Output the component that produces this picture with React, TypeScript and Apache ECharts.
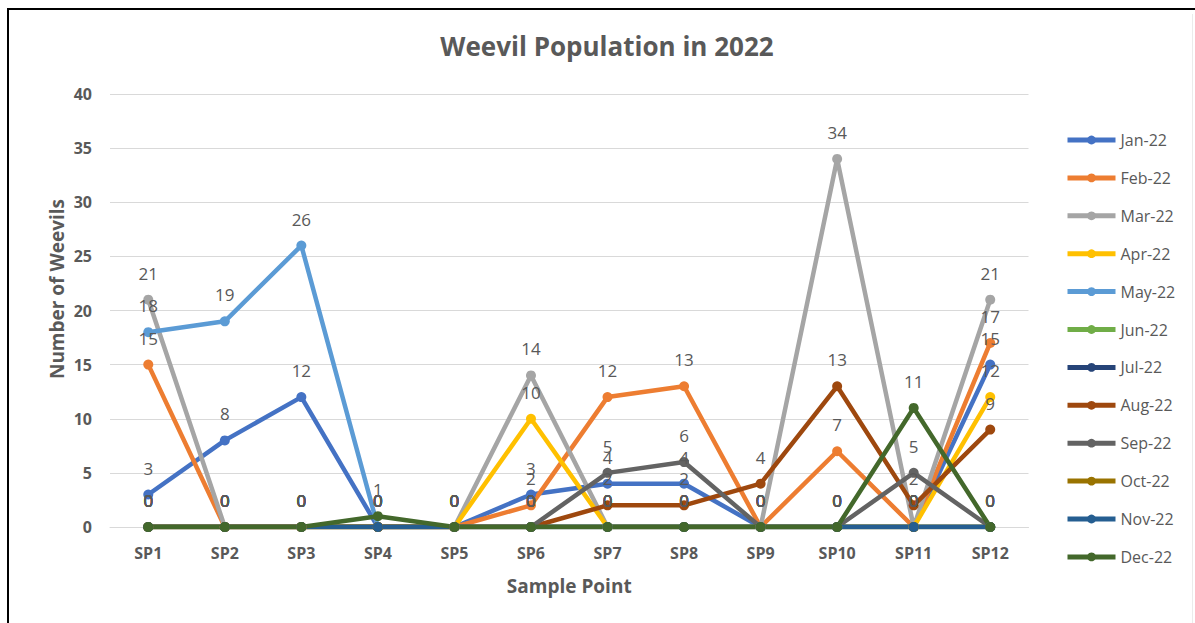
import React, { useEffect, useRef } from "react";
import * as echarts from "echarts";

// Sample points along the x axis
const samplePoints = ["SP1", "SP2", "SP3", "SP4", "SP5", "SP6", "SP7", "SP8", "SP9", "SP10", "SP11", "SP12"];

// Monthly weevil counts per sample point
const jan22 = [3, 8, 12, 0, 0, 3, 4, 4, 0, 0, 0, 15];
const feb22 = [15, 0, 0, 0, 0, 2, 12, 13, 0, 7, 0, 17];
const mar22 = [21, 0, 0, 0, 0, 14, 0, 0, 0, 34, 0, 21];
const apr22 = [0, 0, 0, 0, 0, 10, 0, 0, 0, 0, 0, 12];
const may22 = [18, 19, 26, 0, 0, 0, 0, 0, 0, 0, 0, 0];
const jun22 = [0, 0, 0, 0, 0, 0, 0, 0, 0, 0, 0, 0];
const jul22 = [0, 0, 0, 0, 0, 0, 0, 0, 0, 0, 0, 0];
const aug22 = [0, 0, 0, 0, 0, 0, 2, 2, 4, 13, 2, 9];
const sep22 = [0, 0, 0, 0, 0, 0, 5, 6, 0, 0, 5, 0];
const oct22 = [0, 0, 0, 0, 0, 0, 0, 0, 0, 0, 0, 0];
const nov22 = [0, 0, 0, 0, 0, 0, 0, 0, 0, 0, 0, 0];
const dec22 = [0, 0, 0, 1, 0, 0, 0, 0, 0, 0, 11, 0];

const monthNames = ["Jan-22", "Feb-22", "Mar-22", "Apr-22", "May-22", "Jun-22", "Jul-22", "Aug-22", "Sep-22", "Oct-22", "Nov-22", "Dec-22"];
const monthValues = [jan22, feb22, mar22, apr22, may22, jun22, jul22, aug22, sep22, oct22, nov22, dec22];
const monthColors = ["#4472C4", "#ED7D31", "#A5A5A5", "#FFC000", "#5B9BD5", "#70AD47", "#264478", "#9E480E", "#636363", "#997300", "#255E91", "#43682B"];

// Y axis range
const yMin = 0;
const yMax = 40;
const yStep = 5;

const FONT = "'Open Sans', 'Noto Sans', sans-serif";
const TEXT = "#595959";

export default function App() {
  const ref = useRef<HTMLDivElement>(null);

  useEffect(() => {
    if (!ref.current) return;
    const chart = echarts.init(ref.current, null, { renderer: "svg" });

    const series = monthNames.map((name, i) => ({
      name,
      type: "line",
      data: monthValues[i],
      symbol: "circle",
      symbolSize: 10,
      color: monthColors[i],
      lineStyle: { width: 4.5, color: monthColors[i] },
      itemStyle: { color: monthColors[i] },
      label: {
        show: true,
        position: "top",
        distance: 13,
        color: TEXT,
        fontSize: 17,
        fontFamily: FONT,
      },
    }));

    chart.setOption({
      animation: false,
      backgroundColor: "#ffffff",
      title: {
        text: "Weevil Population in 2022",
        left: 602,
        top: 28,
        textAlign: "center",
        textStyle: { fontFamily: FONT, fontSize: 26, fontWeight: "bold", color: TEXT },
      },
      grid: { left: 110, right: 166.5, top: 94, bottom: 96, containLabel: false },
      legend: {
        orient: "vertical",
        left: 1060,
        top: 127,
        itemWidth: 48,
        itemHeight: 11,
        itemGap: 21.9,
        lineStyle: { width: 5 },
        textStyle: { fontFamily: FONT, fontSize: 16, color: TEXT },
        data: monthNames,
      },
      xAxis: {
        type: "category",
        data: samplePoints,
        name: "Sample Point",
        nameLocation: "middle",
        nameGap: 49,
        nameTextStyle: { fontFamily: FONT, fontSize: 19, fontWeight: "bold", color: TEXT },
        axisLine: { show: true, lineStyle: { color: "#D9D9D9", width: 1 } },
        axisTick: { show: false },
        axisLabel: { fontFamily: FONT, fontSize: 16, fontWeight: "bold", color: TEXT, margin: 18 },
      },
      yAxis: {
        type: "value",
        min: yMin,
        max: yMax,
        interval: yStep,
        axisLine: { show: false },
        axisTick: { show: false },
        axisLabel: { fontFamily: FONT, fontSize: 16, fontWeight: "bold", color: TEXT, margin: 18 },
        splitLine: { lineStyle: { color: "#D9D9D9", width: 1 } },
      },
      graphic: [
        {
          type: "text",
          x: 57,
          y: 289,
          rotation: Math.PI / 2,
          style: {
            text: "Number of Weevils",
            fontFamily: FONT,
            fontSize: 19,
            fontWeight: "bold",
            fill: TEXT,
            align: "center",
            verticalAlign: "middle",
          },
        },
        { type: "line", shape: { x1: 8, y1: 8, x2: 8, y2: 623 }, style: { stroke: "#000", lineWidth: 2 } },
        { type: "line", shape: { x1: 7, y1: 9, x2: 1195, y2: 9 }, style: { stroke: "#000", lineWidth: 2 } },
        { type: "line", shape: { x1: 1192.5, y1: 14, x2: 1192.5, y2: 623 }, style: { stroke: "#EBEBEB", lineWidth: 1 } },
      ],
      series,
    });

    return () => chart.dispose();
  }, []);

  return <div ref={ref} style={{ position: "absolute", left: 0, top: 0, width: 1195, height: 623 }} />;
}
